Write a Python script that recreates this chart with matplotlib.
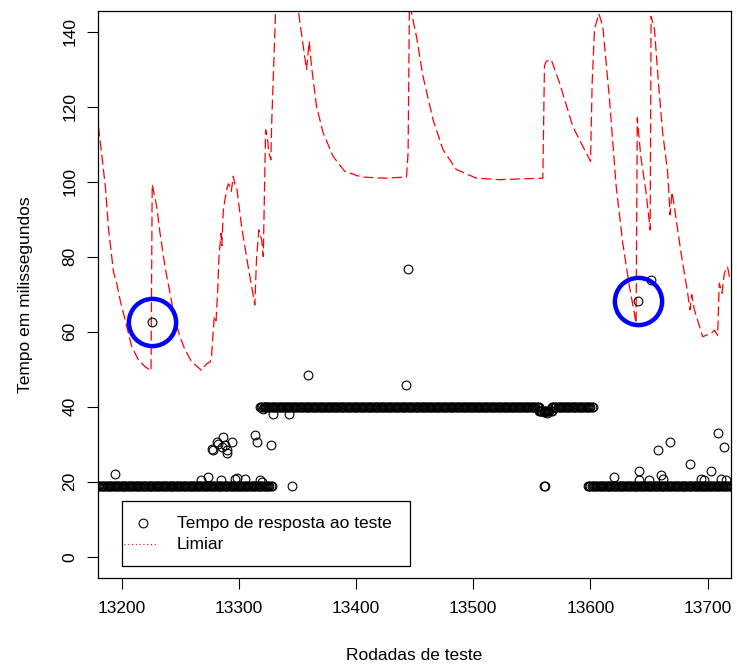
import numpy as np
import matplotlib.pyplot as plt
from matplotlib.patches import Rectangle
from matplotlib.lines import Line2D

plt.rcParams['font.family'] = ['Liberation Sans', 'DejaVu Sans']
FS = 12.5

# response time bands (runs of rounds that sit on a flat level)
band_start = [13180, 13318, 13556, 13567, 13560, 13598]
band_end = [13328, 13556, 13567, 13602, 13561, 13720]
band_level = [18.8, 39.9, 39.0, 39.9, 18.8, 18.8]

# isolated responses off the bands
out_x = [13194.3, 13226.0, 13268.0, 13274.0, 13285.0, 13297.0, 13298.0, 13305.0,
         13318.0, 13319.5, 13276.7, 13278.1, 13281.0, 13282.4, 13286.1, 13288.1,
         13289.5, 13290.0, 13293.8, 13285.3, 13313.6, 13315.6, 13327.0, 13320.7,
         13322.2, 13329.2, 13342.9, 13345.0, 13358.6, 13442.4, 13444.3, 13620.5,
         13640.4, 13641.3, 13641.8, 13650.4, 13651.8, 13657.5, 13660.4, 13661.8,
         13668.0, 13685.0, 13694.5, 13697.0, 13703.0, 13709.2, 13711.5, 13714.3,
         13716.0, 13560.5, 13563.0]
out_y = [22.0, 62.5, 20.6, 21.2, 20.4, 20.7, 21.1, 20.8,
         20.4, 20.0, 28.7, 28.5, 30.7, 30.2, 32.0, 29.8,
         28.5, 27.6, 30.7, 29.2, 32.6, 30.7, 29.8, 39.3,
         40.0, 38.0, 38.1, 18.8, 48.5, 45.8, 76.7, 21.2,
         68.3, 22.9, 20.6, 20.6, 73.9, 28.6, 21.8, 20.8,
         30.5, 24.7, 20.8, 20.5, 22.8, 32.9, 20.8, 29.3,
         20.5, 38.5, 38.4]

# adaptive threshold
lim_x = [13180.1, 13183.1, 13186.0, 13188.8, 13193.1, 13195.7, 13198.6, 13204.3,
         13208.5, 13214.2, 13219.9, 13225.0, 13226.0, 13229.8, 13232.7, 13236.9,
         13241.2, 13245.4, 13249.7, 13254.0, 13259.7, 13268.2, 13272.5, 13275.5,
         13276.7, 13279.0, 13280.5, 13281.8, 13283.0, 13284.7, 13285.5, 13286.7,
         13289.5, 13291.0, 13292.3, 13293.5, 13295.2, 13296.5, 13298.0, 13302.3,
         13307.9, 13313.6, 13315.0, 13317.0, 13319.4, 13320.8, 13322.8, 13324.5,
         13325.6, 13327.3, 13327.9, 13334.0, 13340.0, 13346.0, 13350.6, 13355.0,
         13357.7, 13360.0, 13362.0, 13366.2, 13371.9, 13380.4, 13390.4, 13404.6,
         13424.5, 13443.0, 13444.4, 13445.5, 13447.0, 13451.5, 13457.1, 13465.7,
         13474.2, 13485.6, 13502.6, 13522.5, 13540.0, 13559.4, 13560.8, 13562.3,
         13566.6, 13573.7, 13585.0, 13592.0, 13600.1, 13601.5, 13603.5, 13607.2,
         13610.6, 13616.3, 13622.0, 13627.6, 13633.3, 13637.5, 13639.0, 13640.0,
         13643.0, 13647.6, 13651.0, 13651.8, 13654.7, 13658.3, 13661.7, 13666.0,
         13668.0, 13669.7, 13671.7, 13677.4, 13683.0, 13685.0, 13686.5, 13688.7,
         13695.8, 13703.0, 13705.8, 13708.6, 13710.0, 13712.3, 13714.3, 13717.0,
         13718.6, 13721.0]
lim_y = [114.8, 106.8, 98.8, 87.2, 75.7, 73.0, 68.5, 61.4,
         56.1, 52.5, 50.7, 49.6, 99.3, 93.5, 86.3, 77.4,
         70.3, 63.2, 58.7, 55.2, 52.0, 49.7, 51.5, 52.0,
         53.8, 64.1, 63.0, 70.3, 80.0, 86.3, 83.0, 92.6,
         97.9, 99.5, 98.8, 97.5, 101.5, 99.5, 98.8, 88.1,
         77.4, 67.2, 79.2, 87.2, 84.6, 80.1, 113.9, 111.3,
         107.7, 105.9, 114.8, 170.0, 162.0, 152.0, 146.0, 136.0,
         130.0, 137.5, 130.8, 120.2, 113.1, 106.8, 102.8, 101.3,
         101.0, 101.3, 107.7, 147.0, 145.5, 138.9, 128.2, 116.6,
         108.6, 103.3, 101.0, 100.6, 100.8, 101.0, 130.9, 132.2,
         132.6, 126.4, 114.8, 110.4, 105.5, 126.4, 140.7, 144.9,
         141.5, 122.0, 98.8, 83.7, 72.1, 65.0, 62.3, 117.1,
         106.8, 97.0, 87.2, 144.2, 140.7, 125.5, 113.1, 102.4,
         91.2, 97.3, 93.3, 81.0, 70.3, 65.9, 69.9, 65.9,
         58.7, 59.6, 60.4, 59.1, 73.0, 70.3, 75.6, 77.4,
         74.8, 76.0]

# anomalies flagged by the threshold
flag_x = [13226.0, 13640.4]
flag_y = [62.5, 68.3]

pts_x, pts_y = [], []
for a, b, lv in zip(band_start, band_end, band_level):
    xs = np.arange(a, b + 1)
    pts_x.extend(xs)
    pts_y.extend([lv] * len(xs))
pts_x.extend(out_x)
pts_y.extend(out_y)

fig = plt.figure(figsize=(7.37, 6.65), dpi=100)
W, H = 737, 665
L, R, T, B = 98.3, 731.0, 11.0, 577.7
ax = fig.add_axes([L / W, (H - B) / H, (R - L) / W, (B - T) / H])

ax.plot(lim_x, lim_y, color='red', lw=0.9, ls=(0, (8, 3.4)))
ax.plot(pts_x, pts_y, ls='none', marker='o', ms=6.3, mfc='none', mec='black', mew=0.8)
ax.plot(flag_x, flag_y, ls='none', marker='o', ms=34, mfc='none', mec='#0000ff', mew=3.2)

ax.set_xlim(13180, 13720)
ax.set_ylim(-5.6, 145.6)
ax.set_xticks(np.arange(13200, 13701, 100))
ax.set_yticks(np.arange(0, 141, 20))
ax.tick_params(axis='both', direction='out', length=8, width=0.8, labelsize=FS, color='black')
ax.tick_params(axis='x', pad=8.5)
ax.tick_params(axis='y', pad=7)
for lab in ax.get_yticklabels():
    lab.set_rotation(90)
    lab.set_va('center')
for sp in ax.spines.values():
    sp.set_linewidth(0.9)

fig.text(414.5 / W, 1 - 655 / H, 'Rodadas de teste', ha='center', va='center', fontsize=FS)
fig.text(26 / W, 1 - 294.5 / H, 'Tempo em milissegundos', ha='center', va='center',
         rotation=90, fontsize=FS)

# legend box
def fx(px):
    return (px - L) / (R - L)

def fy(py):
    return (B - py) / (B - T)

ax.add_patch(Rectangle((fx(121.7), fy(566)), fx(410) - fx(121.7), fy(501) - fy(566),
                       transform=ax.transAxes, fill=True, fc='white', ec='black', lw=0.9, zorder=5))
ax.add_line(Line2D([fx(143.3)], [fy(523.3)], transform=ax.transAxes, ls='none', marker='o',
                   ms=6.3, mfc='none', mec='black', mew=0.8, zorder=6))
ax.add_line(Line2D([fx(123.5), fx(157)], [fy(544.3), fy(544.3)], transform=ax.transAxes,
                   color='red', lw=0.8, ls=(0, (1, 2.4)), zorder=6))
ax.text(fx(176.7), fy(523.3), 'Tempo de resposta ao teste', transform=ax.transAxes,
        ha='left', va='center', fontsize=FS, zorder=6)
ax.text(fx(176.7), fy(544.3), 'Limiar', transform=ax.transAxes,
        ha='left', va='center', fontsize=FS, zorder=6)

fig.savefig('out.png', dpi=100)
